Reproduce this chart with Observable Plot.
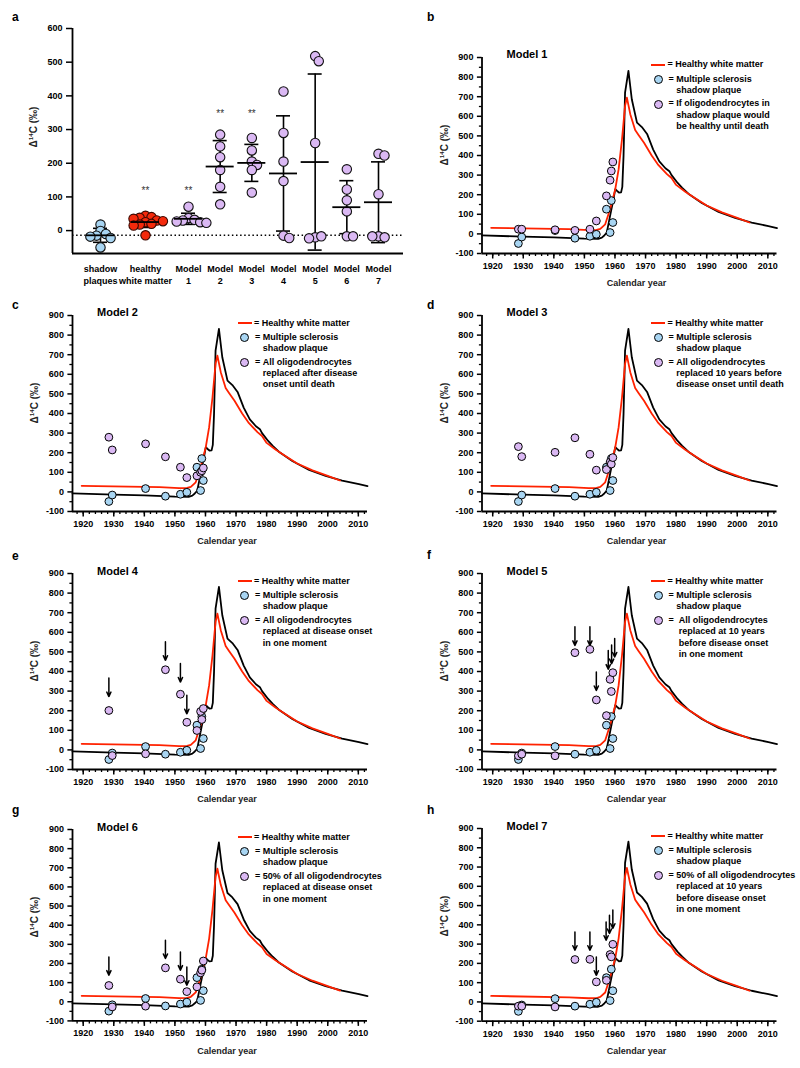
<!DOCTYPE html>
<html><head><meta charset="utf-8">
<script src="https://cdn.jsdelivr.net/npm/d3@7"></script>
<script src="https://cdn.jsdelivr.net/npm/@observablehq/plot@0.6"></script>
<style>
body{margin:0;background:#fff;}
#fig{position:relative;width:800px;height:1068px;overflow:hidden;font-family:"Liberation Sans",Arial,sans-serif;font-weight:bold;color:#000;background:#fff;}
.abs{position:absolute;white-space:nowrap;}
sup{font-size:0.62em;vertical-align:0.5em;line-height:0;}
</style></head><body><div id="fig"></div>
<script>
// ---------------- DATA ----------------
// Panel a
const catLabels = ["shadow\nplaques","healthy\nwhite matter","Model\n1","Model\n2","Model\n3","Model\n4","Model\n5","Model\n6","Model\n7"];
const shadowPlaques = [18, -1, -10, -15, -18, -22, -50];
const healthyWM = [44, 40, 38, 35, 30, 28, 25, 20, 18, 15, -14];
const aModel1 = [71, 37, 32, 30, 27, 25, 23];
const aModel2 = [285, 250, 218, 180, 130, 78];
const aModel3 = [275, 238, 205, 195, 180, 113];
const aModel4 = [413, 290, 205, 147, -15, -22];
const aModel5 = [518, 503, 260, -20, -17, -23];
const aModel6 = [182, 122, 90, 57, -17, -17];
const aModel7 = [228, 223, 108, -17, -20, -17];
const sigLabel = ["", "**", "**", "**", "**", "", "", "", ""];
const sigY = [null, 119, 119, 347, 347, null, null, null, null];

// Panels b-h: curves
const atmosYears = [1916.5,1930,1940,1950,1954.5,1955.7,1956.5,1957.3,1958.4,1959.5,1960.1,1960.7,1961.3,1962.0,1962.4,1962.8,1963.3,1964.4,1965.5,1967.2,1968.8,1970.5,1972.5,1974.5,1976.5,1977.8,1978.5,1980.5,1982,1984,1988.4,1993.9,1999.3,2004.7,2010.2,2013];
const atmosVals  = [-8,-14,-18,-24,-25,-19,-8,5,92,177,228,219,211,212,240,398,721,832,687,568,545,510,430,370,335,320,300,260,235,205,158,112,82,58,40,30];
const healthyYears = [1919.5,1945,1951.4,1954,1955.2,1956.8,1958.4,1960.1,1961.2,1962.3,1963.3,1963.9,1965,1966.6,1967.7,1969.5,1972,1974,1977,1978.5,1980,1983,1986,1990,1995,2000,2004];
const healthyVals  = [31,24,19,20,26,49,126,228,330,483,653,695,611,530,505,465,400,355,305,285,250,215,185,145,110,82,58];

// Panels b-h: samples
const sampleYears = [1928.4,1929.5,1940.4,1946.9,1951.8,1953.9,1957.2,1958.4,1958.8,1959.3];
const shadowPlaque = [-49,-16,17,-22,-12,-2,126,7,170,58];
const model1 = [24,24,21,18,24,66,194,274,321,367];
const model2 = [279,214,245,179,126,73,82,100,108,122];
const model3 = [231,180,202,276,192,111,114,152,142,175];
const model4 = [201,-29,-20,409,284,141,99,196,155,211];
const model5 = [-30,-22,-30,496,513,255,175,360,298,394];
const model6 = [85,-27,-23,177,118,53,78,151,165,213];
const model7 = [-22,-22,-26,220,221,104,112,246,234,299];

// arrows (year, tip value)
const arrowYearsE = [1928.4,1946.9,1951.8,1953.9];
const arrowTipsE  = [272,457,346,184];
const arrowYearsF = [1946.9,1951.8,1953.9,1957.8,1958.9,1959.9];
const arrowTipsF  = [533,533,303,412,440,474];
const arrowYearsG = [1928.4,1946.9,1951.8,1953.9];
const arrowTipsG  = [139,226,165,86];
const arrowYearsH = [1946.9,1951.8,1953.9,1957.1,1958.2,1959.3];
const arrowTipsH  = [268,268,138,320,355,382];

const legendTexts = {
  b: ["If oligodendrocytes in","shadow plaque would","be healthy until death"],
  c: ["All oligodendrocytes","replaced after disease","onset until death"],
  d: ["All oligodendrocytes","replaced 10 years before","disease onset until death"],
  e: ["All oligodendrocytes","replaced at disease onset","in one moment"],
  f: ["All oligodendrocytes","replaced at 10 years","before disease onset","in one moment"],
  g: ["50% of all oligodendrocytes","replaced at disease onset","in one moment"],
  h: ["50% of all oligodendrocytes","replaced at 10 years","before disease onset","in one moment"]
};

// ---------------- STYLE ----------------
const BLUE = "#a8d5f2", PURPLE = "#dab8f3", RED = "#ff2200", REDDOT = "#f42a0c";
const FONT = '"Liberation Sans", Arial, sans-serif';
const STYLE = {background: "transparent", overflow: "visible", fontFamily: FONT, fontSize: "9px", fontWeight: "bold", color: "#000"};

const fig = document.getElementById("fig");
function addDiv(html, style) {
  const d = document.createElement("div");
  d.className = "abs"; d.innerHTML = html;
  Object.assign(d.style, style);
  fig.appendChild(d); return d;
}
function place(svg, left, top, w) {
  const d = document.createElement("div");
  d.className = "abs";
  d.style.left = left + "px"; d.style.top = top + "px"; d.style.width = w + "px";
  d.appendChild(svg); fig.appendChild(d);
}
function centered(html, cx, cy, size, extra) {
  return addDiv(html, Object.assign({left: cx + "px", top: cy + "px", transform: "translate(-50%,-50%)", fontSize: size + "px"}, extra || {}));
}
function yLabel(cx, cy) {
  addDiv("Δ<sup>14</sup>C (‰)", {left: cx + "px", top: cy + "px", transform: "translate(-50%,-50%) rotate(-90deg)", fontSize: "10px", color: "#222"});
}
function leftText(html, x, cy, size) {
  return addDiv(html, {left: x + "px", top: (cy - size * 0.6) + "px", fontSize: size + "px", lineHeight: (size * 1.2) + "px"});
}

// ---------------- PANEL a ----------------
(function panelA() {
  const groups = [shadowPlaques, healthyWM, aModel1, aModel2, aModel3, aModel4, aModel5, aModel6, aModel7];
  const W = 405, H = 295, mt = 28, mb = 42, ml = 72;
  const xDom = [-0.62, 0, 1, 2, 8, 8.79];
  const xRng = [72, 100, 145, 188, 378, 403];
  const yDom = [-68, 600];
  const xs = d3.scaleLinear(xDom, xRng);
  const ys = d3.scaleLinear(yDom, [H - mb, mt]);
  const DC = 6.2;
  const pts = [];
  groups.forEach((vals, gi) => {
    const placed = [];
    vals.forEach(v => {
      const py = ys(v);
      const forb = [];
      for (const q of placed) {
        const dy = Math.abs(q.py - py);
        if (dy < DC) { const w = Math.sqrt(DC * DC - dy * dy); forb.push([q.px - w, q.px + w]); }
      }
      const cands = [0, ...forb.flat()].sort((a, b) => Math.abs(a) - Math.abs(b) || b - a);
      const px = cands.find(c => forb.every(([a, b]) => c <= a + 1e-6 || c >= b - 1e-6));
      placed.push({px, py});
      pts.push({g: gi, v, x: xs.invert(xs(gi) + px)});
    });
  });
  const stats = groups.map((vals, g) => {
    const m = d3.mean(vals), s = d3.deviation(vals);
    return {g, mean: m, lo: m - s, hi: m + s};
  });
  const off = (g, px) => xs.invert(xs(g) + px);
  const svg = Plot.plot({
    width: W, height: H, marginTop: mt, marginBottom: mb, marginLeft: ml, marginRight: W - 403,
    x: {type: "linear", domain: xDom, range: xRng},
    y: {domain: yDom},
    style: STYLE,
    marks: [
      Plot.ruleY([d3.mean(shadowPlaques)], {stroke: "#000", strokeWidth: 1.6, strokeDasharray: "1.5,2.6"}),
      Plot.ruleX(stats, {x: "g", y1: "lo", y2: "hi", stroke: "#000", strokeWidth: 1.6}),
      Plot.ruleY(stats, {y: "hi", x1: d => off(d.g, -7), x2: d => off(d.g, 7), stroke: "#000", strokeWidth: 1.6}),
      Plot.ruleY(stats, {y: "lo", x1: d => off(d.g, -7), x2: d => off(d.g, 7), stroke: "#000", strokeWidth: 1.6}),
      Plot.dot(pts.filter(d => d.g === 0), {x: "x", y: "v", r: 4.7, fill: BLUE, stroke: "#111", strokeWidth: 1.1}),
      Plot.dot(pts.filter(d => d.g === 1), {x: "x", y: "v", r: 4.7, fill: REDDOT, stroke: "#3a0800", strokeWidth: 1.1}),
      Plot.dot(pts.filter(d => d.g >= 2), {x: "x", y: "v", r: 4.7, fill: PURPLE, stroke: "#111", strokeWidth: 1.1}),
      Plot.ruleY(stats, {y: "mean", x1: d => off(d.g, -14), x2: d => off(d.g, 14), stroke: "#000", strokeWidth: 1.8}),
      Plot.text(d3.range(9).filter(i => sigLabel[i]), {x: i => i, y: i => sigY[i], text: i => sigLabel[i], fontSize: 10, fontWeight: "normal", fill: "#333"}),
      Plot.ruleX([xDom[0]], {stroke: "#000", strokeWidth: 1.8}),
      Plot.ruleY([yDom[0]], {stroke: "#000", strokeWidth: 1.8}),
      Plot.axisY({ticks: d3.range(0, 601, 100), tickSize: 6, tickPadding: 4, strokeWidth: 1.5, label: null, tickFormat: d => String(d)}),
      Plot.axisX({ticks: d3.range(9), tickSize: 0, tickPadding: 10, label: null, lineHeight: 1.33, tickFormat: i => catLabels[i]})
    ]
  });
  place(svg, 0, 0, W);
  yLabel(33, 127);
  leftText("a", 12, 17, 12);
})();

// ---------------- PANELS b-h ----------------
const xDomT = [1916.5, 2013];
const yDomT = [-100, 900];
const PLOTW = 295;
const ARROW_LEN = 95;

function timeline(o) {
  const axisPage = o.col ? 481.5 : 72;
  const ml = axisPage - o.col * 400;
  const mt = 20, mb = 45, S = o.S;
  const ay = o.arrowYears || [], at = o.arrowTips || [];
  const idx = d3.range(sampleYears.length);
  const svg = Plot.plot({
    width: 400, height: mt + S + mb, marginTop: mt, marginBottom: mb, marginLeft: ml, marginRight: 400 - ml - PLOTW,
    x: {domain: xDomT}, y: {domain: yDomT},
    style: STYLE,
    marks: [
      Plot.axisY({ticks: d3.range(-50, 900, 100), tickSize: 2.6, tickFormat: () => "", strokeWidth: 1.3, label: null}),
      Plot.axisY({ticks: d3.range(-100, 901, 100), tickSize: 4.6, tickPadding: 4, strokeWidth: 1.5, label: null, tickFormat: d => String(d)}),
      Plot.axisX({ticks: d3.range(1918, 2013, 2), tickSize: 3, tickFormat: () => "", strokeWidth: 1.3, label: null}),
      Plot.axisX({ticks: d3.range(1920, 2011, 10), tickSize: 5.5, tickPadding: 3.5, strokeWidth: 1.5, label: null, tickFormat: d => String(d)}),
      Plot.ruleX([xDomT[0]], {stroke: "#000", strokeWidth: 1.8}),
      Plot.ruleY([yDomT[0]], {stroke: "#000", strokeWidth: 1.8}),
      Plot.line(d3.range(atmosYears.length), {x: i => atmosYears[i], y: i => atmosVals[i], stroke: "#000", strokeWidth: 1.8}),
      Plot.line(d3.range(healthyYears.length), {x: i => healthyYears[i], y: i => healthyVals[i], stroke: RED, strokeWidth: 1.8}),
      Plot.arrow(d3.range(ay.length), {x1: i => ay[i], x2: i => ay[i], y1: i => at[i] + ARROW_LEN, y2: i => at[i], stroke: "#000", strokeWidth: 1.5, headLength: 5, headAngle: 50}),
      Plot.dot(idx, {x: i => sampleYears[i], y: i => shadowPlaque[i], r: 3.9, fill: BLUE, stroke: "#000", strokeWidth: 1}),
      Plot.dot(idx, {x: i => sampleYears[i], y: i => o.purple[i], r: 3.9, fill: PURPLE, stroke: "#000", strokeWidth: 1})
    ]
  });
  place(svg, o.col * 400, o.T - mt, 400);
  // labels
  yLabel(axisPage - 38, o.T + 88);
  centered("Calendar year", axisPage + 155, o.T + S + 30, 9, {color: "#222"});
  leftText(o.title, axisPage + 25, o.T - 2, 11);
  leftText(o.letter, o.col ? 427 : 12, o.letterY, 12);
  // legend
  const cx = o.col ? 658 : 244.5, T = o.T;
  addDiv("", {left: (cx - 7) + "px", top: (T + 7) + "px", width: "14px", height: "2px", background: RED});
  leftText("= Healthy white matter", cx + 9.5, T + 8, 9);
  const circ = (cy, col) => addDiv("", {left: (cx - 4.5) + "px", top: (cy - 4.5) + "px", width: "7px", height: "7px", border: "1px solid #000", borderRadius: "50%", background: col});
  circ(T + 22.5, BLUE);
  circ(T + 47.3, PURPLE);
  const block = (lines, cy, eq) => addDiv(
    `<div style="display:flex"><span>${eq}</span><span>${lines.join("<br>")}</span></div>`,
    {left: (cx + 10.5) + "px", top: (cy - 5.6) + "px", fontSize: "9px", lineHeight: "11.3px"});
  block(["Multiple sclerosis", "shadow plaque"], T + 22.5, "=&nbsp;");
  block(o.legend, T + 47.3, o.letter === "f" ? "=&nbsp;&nbsp;" : "=&nbsp;");
}

timeline({col: 1, T: 56.7, S: 196, letter: "b", letterY: 17, title: "Model 1", purple: model1, legend: legendTexts.b});
timeline({col: 0, T: 315, S: 196, letter: "c", letterY: 305, title: "Model 2", purple: model2, legend: legendTexts.c});
timeline({col: 1, T: 315, S: 196, letter: "d", letterY: 305, title: "Model 3", purple: model3, legend: legendTexts.d});
timeline({col: 0, T: 573.3, S: 196, letter: "e", letterY: 556, title: "Model 4", purple: model4, legend: legendTexts.e, arrowYears: arrowYearsE, arrowTips: arrowTipsE});
timeline({col: 1, T: 573.3, S: 196, letter: "f", letterY: 555, title: "Model 5", purple: model5, legend: legendTexts.f, arrowYears: arrowYearsF, arrowTips: arrowTipsF});
timeline({col: 0, T: 829.3, S: 191.4, letter: "g", letterY: 810, title: "Model 6", purple: model6, legend: legendTexts.g, arrowYears: arrowYearsG, arrowTips: arrowTipsG});
timeline({col: 1, T: 828.3, S: 192.7, letter: "h", letterY: 810, title: "Model 7", purple: model7, legend: legendTexts.h, arrowYears: arrowYearsH, arrowTips: arrowTipsH});
</script></body></html>
